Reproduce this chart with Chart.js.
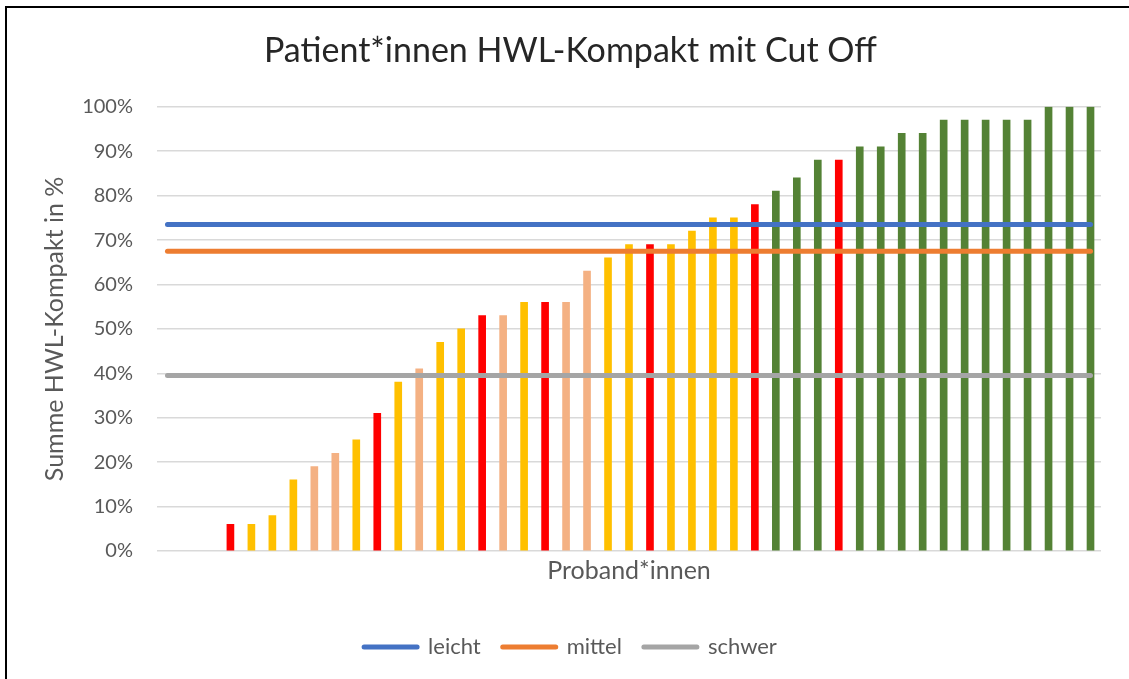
<!DOCTYPE html>
<html>
<head>
<meta charset="utf-8">
<script src="https://cdn.jsdelivr.net/npm/chart.js@4.4.1/dist/chart.umd.min.js"></script>
<style>
  html, body { margin: 0; padding: 0; background: #fff; overflow: hidden; }
  #frame { position: absolute; left: 5px; top: 6px; width: 1200px; height: 800px;
           border-left: 2px solid #000; border-top: 2px solid #000; }
  #wrap { position: absolute; left: 0; top: 0; width: 1129px; height: 679px; }
</style>
</head>
<body>
<div id="frame"></div>
<div id="wrap"><canvas id="myChart" width="1129" height="679"></canvas></div>
<script>
// Proband*innen (sorted by score)
const probanden = ['1','2','3','4','5','6','7','8','9','10','11','12','13','14','15',
                   '16','17','18','19','20','21','22','23','24','25','26','27','28','29','30',
                   '31','32','33','34','35','36','37','38','39','40','41','42','43','44','45'];

// Summe HWL-Kompakt in %
const werte = [0, 0, 0, 6, 6, 8, 16, 19, 22, 25, 31, 38, 41, 47, 50,
               53, 53, 56, 56, 56, 63, 66, 69, 69, 69, 72, 75, 75, 78, 81,
               84, 88, 88, 91, 91, 94, 94, 97, 97, 97, 97, 97, 100, 100, 100];

// colour group of each bar
const gruppen = ['', '', '', 'rot', 'gelb', 'gelb', 'gelb', 'hell', 'hell', 'gelb', 'rot', 'gelb', 'hell', 'gelb', 'gelb',
                 'rot', 'hell', 'gelb', 'rot', 'hell', 'hell', 'gelb', 'gelb', 'rot', 'gelb', 'gelb', 'gelb', 'gelb', 'rot', 'gruen',
                 'gruen', 'gruen', 'rot', 'gruen', 'gruen', 'gruen', 'gruen', 'gruen', 'gruen', 'gruen', 'gruen', 'gruen', 'gruen', 'gruen', 'gruen'];

// cut off lines
const cutOffNamen = ['leicht', 'mittel', 'schwer'];
const cutOffWerte = [73.5, 67.5, 39.5];

const gruppenFarben = { rot: '#FF0000', gelb: '#FFC000', hell: '#F4B183', gruen: '#548235', '': 'rgba(0,0,0,0)' };
const cutOffFarben = ['#4472C4', '#ED7D31', '#A5A5A5'];

Chart.defaults.font.family = 'Lato';

// centre title and legend on the whole chart box, not the plot
const boxShift = {
    id: 'boxShift',
    afterLayout(chart) {
        chart.legend.left = 6;
        chart.legend.right = 1135;
        chart.titleBlock.left = 6;
        chart.titleBlock.right = 1135;
    }
};

const cutOffDatasets = cutOffNamen.map(function(name, i) {
    return {
        type: 'line',
        label: name,
        data: [
            { x: probanden[0], y: cutOffWerte[i] },
            { x: probanden[probanden.length - 1], y: cutOffWerte[i] }
        ],
        borderColor: cutOffFarben[i],
        backgroundColor: cutOffFarben[i],
        borderWidth: 5,
        borderCapStyle: 'round',
        pointRadius: 0,
        fill: false
    };
});

const ctx = document.getElementById('myChart').getContext('2d');
const myChart = new Chart(ctx, {
    type: 'bar',
    data: {
        labels: probanden,
        datasets: cutOffDatasets.concat([{
            type: 'bar',
            label: 'Summe',
            data: werte,
            backgroundColor: gruppen.map(g => gruppenFarben[g]),
            borderWidth: 0,
            barThickness: 7
        }])
    },
    options: {
        responsive: false,
        animation: false,
        layout: { padding: { left: 0, right: 28, top: 0, bottom: 11 } },
        scales: {
            x: {
                ticks: { display: false },
                grid: { display: false, drawTicks: false },
                border: { display: false },
                title: {
                    display: true,
                    text: 'Proband*innen',
                    color: '#595959',
                    font: { size: 25 },
                    padding: { top: 5, bottom: 28 }
                }
            },
            y: {
                min: 0,
                max: 100,
                afterFit: function(scale) { scale.width = 157; },
                ticks: {
                    stepSize: 10,
                    color: '#595959',
                    font: { size: 20 },
                    padding: 24,
                    callback: v => v + '%'
                },
                grid: { color: '#D9D9D9', lineWidth: 1.5, drawTicks: false },
                border: { display: false },
                title: {
                    display: true,
                    text: 'Summe HWL-Kompakt in %',
                    color: '#595959',
                    font: { size: 25 },
                    padding: { top: 40, bottom: 0 }
                }
            }
        },
        plugins: {
            title: {
                display: true,
                text: 'Patient*innen HWL-Kompakt mit Cut Off',
                color: '#262626',
                font: { size: 34, weight: 'normal' },
                padding: { top: 31, bottom: 35 }
            },
            legend: {
                position: 'bottom',
                labels: {
                    usePointStyle: true,
                    pointStyleWidth: 53,
                    padding: 22,
                    color: '#595959',
                    font: { size: 22 },
                    generateLabels: function(chart) {
                        const items = Chart.defaults.plugins.legend.labels.generateLabels(chart);
                        return items
                            .filter(item => item.datasetIndex < cutOffNamen.length)
                            .map(item => Object.assign(item, {
                                pointStyle: 'line',
                                lineWidth: 5,
                                lineCap: 'round',
                                strokeStyle: cutOffFarben[item.datasetIndex]
                            }));
                    }
                }
            },
            tooltip: { enabled: false }
        }
    },
    plugins: [boxShift]
});
</script>
</body>
</html>
